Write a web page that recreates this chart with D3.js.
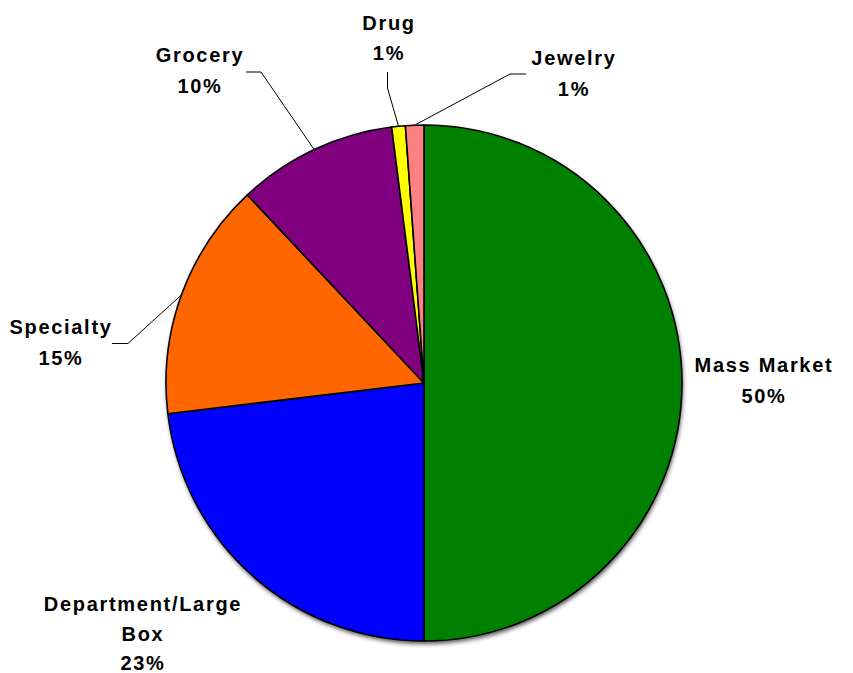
<!DOCTYPE html>
<html>
<head>
<meta charset="utf-8">
<script src="https://cdn.jsdelivr.net/npm/d3@7"></script>
<style>
  html, body { margin: 0; padding: 0; background: #fff; }
  svg { display: block; }
  text { font-family: "Liberation Sans", Arial, sans-serif; font-weight: bold; font-size: 20px; fill: #000; letter-spacing: 1.7px; }
</style>
</head>
<body>
<svg id="chart" width="853" height="673"></svg>
<script>
// Data
const categories = ["Mass Market", "Department/Large Box", "Specialty", "Grocery", "Drug", "Jewelry"];
const values = [50, 23.1, 14.9, 10, 0.85, 1.15];
const percentLabels = ["50%", "23%", "15%", "10%", "1%", "1%"];
const labelLines = [["Mass Market"], ["Department/Large", "Box"], ["Specialty"], ["Grocery"], ["Drug"], ["Jewelry"]];
const colors = ["#008000", "#0000FF", "#FF6600", "#800080", "#FFFF00", "#FF8080"];

// Layout
const cx = 424, cy = 383, r = 258;
const labelPos = [
  {x: 764, y: 372, lh: 31},
  {x: 143, y: 611, lh: 29.5},
  {x: 61, y: 334, lh: 31},
  {x: 200, y: 62, lh: 31},
  {x: 389, y: 30, lh: 30},
  {x: 574, y: 65, lh: 31}
];
const leaderElbows = [
  null,
  null,
  [[112, 343.5], [128, 343.5]],
  [[246, 72], [261, 72]],
  [[387.5, 72], [387.5, 88]],
  [[526, 74], [510, 74]]
];

const svg = d3.select("#chart");
const data = categories.map((c, i) => ({name: c, value: values[i], i}));
const pie = d3.pie().sort(null).value(d => d.value);
const arcs = pie(data);
const arcGen = d3.arc().innerRadius(0).outerRadius(r);

const defs = svg.append("defs");
const f = defs.append("filter").attr("id", "shadow").attr("x", "-10%").attr("y", "-10%").attr("width", "120%").attr("height", "120%");
f.append("feGaussianBlur").attr("stdDeviation", 2);

const g = svg.append("g").attr("transform", `translate(${cx},${cy})`);
g.append("circle").attr("cx", 1).attr("cy", 3).attr("r", r).attr("fill", "#555").attr("filter", "url(#shadow)");

g.selectAll("path.slice").data(arcs).join("path")
  .attr("class", "slice")
  .attr("d", arcGen)
  .attr("fill", d => colors[d.data.i])
  .attr("stroke", "#000")
  .attr("stroke-width", 1.6)
  .attr("stroke-linejoin", "round");

// Leader lines
arcs.forEach((a, i) => {
  const el = leaderElbows[i];
  if (!el) return;
  const mid = (a.startAngle + a.endAngle) / 2;
  const px = cx + r * Math.sin(mid), py = cy - r * Math.cos(mid);
  const pts = el.concat([[px, py]]);
  svg.append("path")
    .attr("d", d3.line()(pts))
    .attr("fill", "none")
    .attr("stroke", "#000")
    .attr("stroke-width", 1);
});

// Labels
arcs.forEach((a, i) => {
  const p = labelPos[i];
  const lines = labelLines[i].concat([percentLabels[i]]);
  const t = svg.append("text").attr("text-anchor", "middle");
  lines.forEach((ln, k) => {
    t.append("tspan").attr("x", p.x).attr("y", p.y + k * p.lh).text(ln);
  });
});
</script>
</body>
</html>
